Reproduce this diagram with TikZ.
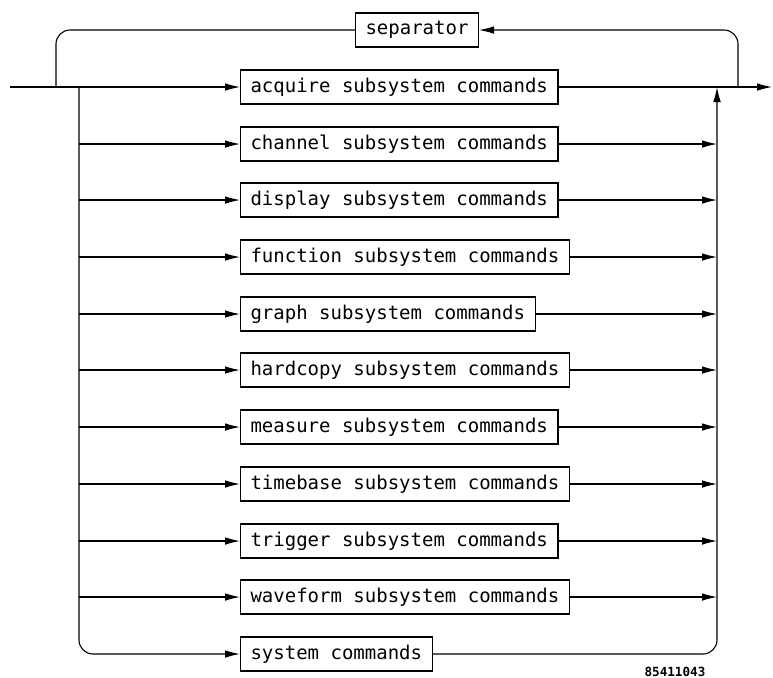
\documentclass[tikz,border=0pt]{standalone}
\usepackage{fontspec}
\newfontfamily\plotfont{DejaVu Sans Mono}
\usetikzlibrary{positioning,arrows.meta}

\begin{document}
\begin{tikzpicture}[x=0.5pt,y=-0.5pt,line width=0.55pt,
  cmd/.style={draw,anchor=west,inner xsep=5pt,minimum height=17pt,font=\plotfont\fontsize{9.5}{11}\selectfont},
  arr/.style={-{Latex[length=7.5pt,width=3.8pt]}}]
\useasboundingbox (0,0) rectangle (773,677);
\coordinate (in) at (10,87);
\coordinate (split) at (56,87);
\coordinate (fork) at (79,87);
\coordinate (join) at (717,87);
\coordinate (loop) at (738,87);
\coordinate (out) at (772,87);
\node[cmd,anchor=center] (sep) at (417,30) {separator};
\node[cmd] (acq) at (240,87) {acquire subsystem commands};
\node[cmd] (chan) at (240,144) {channel subsystem commands};
\node[cmd] (disp) at (240,200) {display subsystem commands};
\node[cmd] (func) at (240,257) {function subsystem commands};
\node[cmd] (graph) at (240,314) {graph subsystem commands};
\node[cmd] (hard) at (240,370) {hardcopy subsystem commands};
\node[cmd] (meas) at (240,427) {measure subsystem commands};
\node[cmd] (time) at (240,484) {timebase subsystem commands};
\node[cmd] (trig) at (240,541) {trigger subsystem commands};
\node[cmd] (wave) at (240,597) {waveform subsystem commands};
\node[cmd] (sys) at (240,654) {system commands};
\node[font=\plotfont\bfseries\fontsize{6.3}{7}\selectfont] (code) at (675,672) {85411043};
\draw[arr] (in) -- (acq);
\draw[arr] (acq) -- (out);
\draw[arr,rounded corners=7pt] (loop) |- (sep);
\draw[rounded corners=7pt] (sep) -| (split);
\draw[arr,rounded corners=7pt] (fork) |- (sys);
\draw[arr,rounded corners=7pt] (sys) -| (join);
\draw[arr] (fork |- chan) -- (chan);
\draw[arr] (fork |- disp) -- (disp);
\draw[arr] (fork |- func) -- (func);
\draw[arr] (fork |- graph) -- (graph);
\draw[arr] (fork |- hard) -- (hard);
\draw[arr] (fork |- meas) -- (meas);
\draw[arr] (fork |- time) -- (time);
\draw[arr] (fork |- trig) -- (trig);
\draw[arr] (fork |- wave) -- (wave);
\draw[arr] (chan) -- (chan -| join);
\draw[arr] (disp) -- (disp -| join);
\draw[arr] (func) -- (func -| join);
\draw[arr] (graph) -- (graph -| join);
\draw[arr] (hard) -- (hard -| join);
\draw[arr] (meas) -- (meas -| join);
\draw[arr] (time) -- (time -| join);
\draw[arr] (trig) -- (trig -| join);
\draw[arr] (wave) -- (wave -| join);
\end{tikzpicture}
\end{document}
